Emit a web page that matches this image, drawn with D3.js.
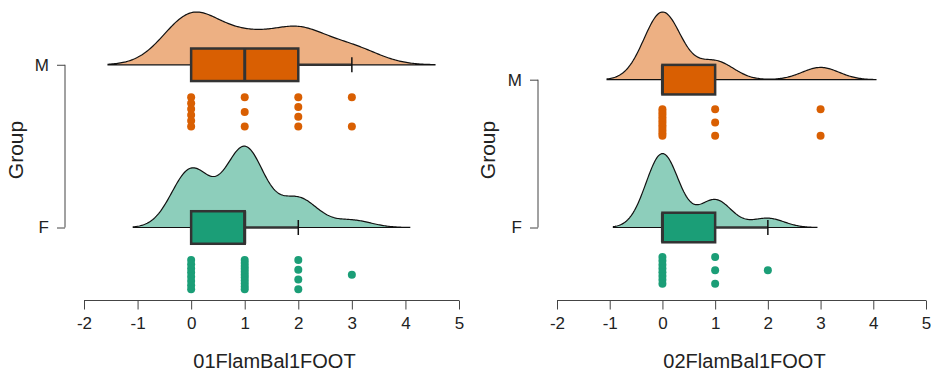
<!DOCTYPE html>
<meta charset="utf-8">
<script src="https://cdn.jsdelivr.net/npm/d3@7"></script>
<style>
body { margin: 0; background: #fff; }
text { font-family: "Liberation Sans", Arial, sans-serif; fill: #222; }
.axis line, .axis path { stroke: #444; stroke-width: 1px; fill: none; }
</style>
<body>
<script>

// groups and variables
var groups = ["M", "F"];
var variables = ["01FlamBal1FOOT", "02FlamBal1FOOT"];
var xTicks = [-2, -1, 0, 1, 2, 3, 4, 5];

var flam1M = [0, 0, 0, 0, 0, 0, 1, 1, 1, 2, 2, 2, 2, 3, 3];
var flam1F = [0, 0, 0, 0, 0, 0, 0, 0, 1, 1, 1, 1, 1, 1, 1, 1, 1, 1, 1, 2, 2, 2, 2, 3];
var flam2M = [0, 0, 0, 0, 0, 0, 0, 0, 0, 0, 0, 1, 1, 1, 3, 3];
var flam2F = [0, 0, 0, 0, 0, 0, 0, 0, 1, 1, 1, 2];

// kernel bandwidths per group (M, F), estimated from the tail extent
var bw1 = [0.517, 0.36];
var bw2 = [0.35, 0.31];

var colors = { M: "#D95F02", F: "#1B9E77" };
var lightColors = { M: "#EDB083", F: "#8DCEBB" };

var width = 931, height = 377;

var svg = d3.select("body").append("svg")
    .attr("width", width)
    .attr("height", height);

function gauss(u) { return Math.exp(-0.5 * u * u) / Math.sqrt(2 * Math.PI); }

function kde(values, bw) {
  var lo = d3.min(values) - 3 * bw, hi = d3.max(values) + 3 * bw;
  return d3.range(0, 241).map(function(i) {
    var x = lo + (hi - lo) * i / 240;
    return [x, d3.mean(values, function(v) { return gauss((x - v) / bw); }) / bw];
  });
}

function drawPanel(cfg) {
  var g = svg.append("g");

  var x = d3.scaleLinear().domain([-2, 5]).range(cfg.xRange);

  var dens = groups.map(function(grp, i) { return kde(cfg.data[i], cfg.bw[i]); });
  var dmax = d3.max(dens, function(d) { return d3.max(d, function(p) { return p[1]; }); });
  var dM = d3.max(dens[0], function(p) { return p[1]; });

  // group spacing so the tallest M cloud just reaches the top
  var top = 12, fBase = 227.5;
  var s = (fBase - top) / (1 + 0.5 * dM / dmax);
  var y = d3.scalePoint().domain(groups).range([fBase - s, fBase]);
  var h = d3.scaleLinear().domain([0, dmax]).range([0, 0.5 * s]);

  groups.forEach(function(grp, i) {
    var base = y(grp);
    var vals = cfg.data[i].slice().sort(d3.ascending);

    // density cloud
    var area = d3.area()
        .x(function(p) { return x(p[0]); })
        .y0(base)
        .y1(function(p) { return base - h(p[1]); });
    g.append("path")
        .datum(dens[i])
        .attr("d", area)
        .attr("fill", lightColors[grp])
        .attr("stroke", "#111")
        .attr("stroke-width", 1.2);

    // box plot
    var q1 = d3.quantile(vals, 0.25), med = d3.quantile(vals, 0.5), q3 = d3.quantile(vals, 0.75);
    var iqr = q3 - q1;
    var hiW = d3.max(vals.filter(function(v) { return v <= q3 + 1.5 * iqr; }));
    var loW = d3.min(vals.filter(function(v) { return v >= q1 - 1.5 * iqr; }));
    var bh = 0.1 * s;

    [[loW, q1], [q3, hiW]].forEach(function(w) {
      if (w[0] === w[1]) return;
      g.append("line")
          .attr("x1", x(w[0])).attr("x2", x(w[1]))
          .attr("y1", base).attr("y2", base)
          .attr("stroke", "#333").attr("stroke-width", 2.5);
    });
    [loW, hiW].forEach(function(v) {
      if (v === q1 || v === q3) return;
      g.append("line")
          .attr("x1", x(v)).attr("x2", x(v))
          .attr("y1", base - 7.5).attr("y2", base + 7.5)
          .attr("stroke", "#111").attr("stroke-width", 1.5);
    });

    g.append("rect")
        .attr("x", x(q1))
        .attr("y", base - bh)
        .attr("width", x(q3) - x(q1))
        .attr("height", 2 * bh)
        .attr("fill", colors[grp])
        .attr("stroke", "#333")
        .attr("stroke-width", 2.5);
    g.append("line")
        .attr("x1", x(med)).attr("x2", x(med))
        .attr("y1", base - bh).attr("y2", base + bh)
        .attr("stroke", "#333").attr("stroke-width", 3);

    // raw points, spread evenly within a band below the box
    var counts = d3.rollup(vals, function(v) { return v.length; }, function(v) { return v; });
    var seen = new Map();
    var band = 0.09 * s, dotY = base + 0.29 * s;
    g.append("g").selectAll("circle")
        .data(vals)
        .enter().append("circle")
        .attr("cx", function(v) { return x(v); })
        .attr("cy", function(v) {
          var k = counts.get(v), j = seen.get(v) || 0;
          seen.set(v, j + 1);
          return k === 1 ? dotY : dotY - band + 2 * band * j / (k - 1);
        })
        .attr("r", 4)
        .attr("fill", colors[grp]);
  });

  // x axis
  var xAxis = g.append("g")
      .attr("class", "axis")
      .attr("transform", "translate(0,300.5)")
      .call(d3.axisBottom(x).tickValues(xTicks)
          .tickFormat(function(d) { return String(d); })
          .tickSizeOuter(0).tickSize(9).tickPadding(7));
  xAxis.selectAll("text").attr("font-size", "17px").attr("fill", "#222");
  xAxis.select(".domain").attr("d", "M" + cfg.xRange[0] + ",0H" + cfg.xRange[1]);

  // y axis
  var yAxis = g.append("g")
      .attr("class", "axis")
      .attr("transform", "translate(" + cfg.yAxisX + ",0)")
      .call(d3.axisLeft(y).tickSize(8).tickSizeOuter(0).tickPadding(8));
  yAxis.selectAll("text").attr("font-size", "17px").attr("fill", "#222");
  yAxis.select(".domain").attr("d", "M0," + y("M") + "V" + y("F"));

  g.append("text")
      .attr("x", (cfg.xRange[0] + cfg.xRange[1]) / 2 + 3)
      .attr("y", 368)
      .attr("text-anchor", "middle")
      .attr("font-size", "20px")
      .text(cfg.title);

  g.append("text")
      .attr("transform", "translate(" + cfg.groupX + ",150) rotate(-90)")
      .attr("text-anchor", "middle")
      .attr("font-size", "21px")
      .text("Group");
}

drawPanel({ data: [flam1M, flam1F], bw: bw1, xRange: [84, 459], yAxisX: 65, groupX: 23, title: variables[0] });
drawPanel({ data: [flam2M, flam2F], bw: bw2, xRange: [557, 926], yAxisX: 538, groupX: 495, title: variables[1] });

</script>
</body>
